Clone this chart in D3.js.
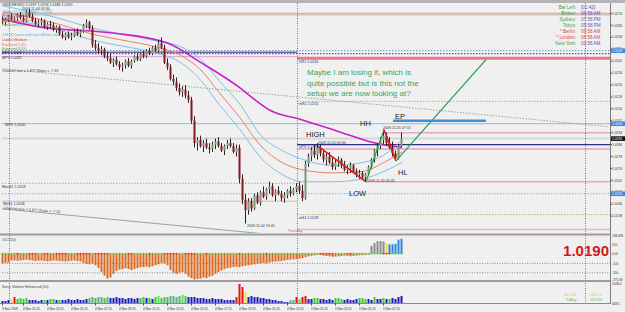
<!DOCTYPE html>
<html>
<head>
<meta charset="utf-8">
<script src="https://cdnjs.cloudflare.com/ajax/libs/d3/7.8.5/d3.min.js"></script>
<style>
  body { margin: 0; background: #f0f0f0; }
  svg { display: block; font-family: "Liberation Sans", Arial, sans-serif; }
</style>
</head>
<body>
<div id="chart"></div>
<script>
// USDCHF M15, one row per bar (3 Nov 23:30 .. 5 Nov 08:45): open, high, low, close
const ohlc = [
  [1.0270,1.0272,1.0267,1.0268],[1.0268,1.0271,1.0266,1.0270],[1.0270,1.0273,1.0268,1.0272],[1.0272,1.0274,1.0269,1.0270],
  [1.0270,1.0272,1.0268,1.0271],[1.0271,1.0274,1.0269,1.0273],[1.0273,1.0275,1.0270,1.0271],[1.0271,1.0273,1.0268,1.0269],
  [1.0269,1.0276,1.0268,1.0275],[1.0275,1.0277,1.0271,1.0272],[1.0272,1.0274,1.0268,1.0269],[1.0269,1.0271,1.0266,1.0267],
  [1.0267,1.0270,1.0265,1.0268],[1.0268,1.0271,1.0266,1.0269],[1.0269,1.0270,1.0264,1.0265],[1.0265,1.0268,1.0263,1.0267],
  [1.0267,1.0269,1.0264,1.0266],[1.0266,1.0268,1.0262,1.0263],[1.0263,1.0266,1.0261,1.0265],[1.0265,1.0266,1.0259,1.0260],
  [1.0260,1.0262,1.0257,1.0258],[1.0258,1.0261,1.0256,1.0260],[1.0260,1.0262,1.0257,1.0258],[1.0258,1.0261,1.0256,1.0259],
  [1.0259,1.0263,1.0258,1.0262],[1.0262,1.0264,1.0259,1.0260],[1.0260,1.0263,1.0258,1.0262],[1.0262,1.0267,1.0261,1.0266],
  [1.0266,1.0270,1.0264,1.0268],[1.0268,1.0269,1.0263,1.0264],[1.0264,1.0266,1.0251,1.0253],[1.0253,1.0256,1.0249,1.0251],
  [1.0251,1.0254,1.0247,1.0249],[1.0249,1.0252,1.0246,1.0250],[1.0250,1.0251,1.0244,1.0245],[1.0245,1.0248,1.0242,1.0244],
  [1.0244,1.0247,1.0240,1.0241],[1.0241,1.0244,1.0238,1.0243],[1.0243,1.0245,1.0239,1.0240],[1.0240,1.0242,1.0236,1.0238],
  [1.0238,1.0241,1.0235,1.0239],[1.0239,1.0243,1.0237,1.0242],[1.0242,1.0244,1.0238,1.0239],[1.0239,1.0243,1.0237,1.0242],
  [1.0242,1.0246,1.0241,1.0245],[1.0245,1.0247,1.0242,1.0243],[1.0243,1.0248,1.0242,1.0247],[1.0247,1.0249,1.0244,1.0245],
  [1.0245,1.0250,1.0244,1.0249],[1.0249,1.0251,1.0246,1.0247],[1.0247,1.0252,1.0246,1.0251],[1.0251,1.0253,1.0248,1.0249],
  [1.0249,1.0256,1.0248,1.0254],[1.0254,1.0258,1.0250,1.0251],[1.0251,1.0253,1.0240,1.0241],[1.0241,1.0244,1.0236,1.0238],
  [1.0238,1.0240,1.0229,1.0230],[1.0230,1.0233,1.0226,1.0228],[1.0228,1.0231,1.0222,1.0224],[1.0224,1.0227,1.0219,1.0221],
  [1.0221,1.0225,1.0218,1.0223],[1.0223,1.0226,1.0217,1.0219],[1.0219,1.0222,1.0214,1.0216],[1.0216,1.0218,1.0200,1.0202],
  [1.0202,1.0205,1.0184,1.0187],[1.0187,1.0191,1.0182,1.0189],[1.0189,1.0192,1.0184,1.0185],[1.0185,1.0189,1.0181,1.0187],
  [1.0187,1.0190,1.0183,1.0184],[1.0184,1.0187,1.0180,1.0183],[1.0183,1.0188,1.0181,1.0186],[1.0186,1.0190,1.0183,1.0188],
  [1.0188,1.0191,1.0184,1.0185],[1.0185,1.0187,1.0181,1.0182],[1.0182,1.0186,1.0179,1.0185],[1.0185,1.0189,1.0183,1.0187],
  [1.0187,1.0190,1.0184,1.0185],[1.0185,1.0187,1.0180,1.0181],[1.0181,1.0186,1.0178,1.0184],[1.0184,1.0186,1.0160,1.0163],
  [1.0163,1.0166,1.0146,1.0149],[1.0149,1.0153,1.0133,1.0142],[1.0142,1.0150,1.0139,1.0148],[1.0148,1.0150,1.0141,1.0143],
  [1.0143,1.0153,1.0142,1.0152],[1.0152,1.0154,1.0146,1.0147],[1.0147,1.0155,1.0145,1.0154],[1.0154,1.0158,1.0150,1.0151],
  [1.0151,1.0157,1.0149,1.0156],[1.0156,1.0161,1.0153,1.0158],[1.0158,1.0160,1.0151,1.0152],[1.0152,1.0156,1.0148,1.0155],
  [1.0155,1.0158,1.0152,1.0153],[1.0153,1.0155,1.0148,1.0150],[1.0150,1.0154,1.0147,1.0152],[1.0152,1.0156,1.0150,1.0155],
  [1.0155,1.0158,1.0151,1.0153],[1.0153,1.0157,1.0152,1.0156],[1.0156,1.0160,1.0154,1.0158],[1.0158,1.0161,1.0153,1.0155],
  [1.0155,1.0159,1.0148,1.0150],[1.0150,1.0175,1.0149,1.0173],[1.0173,1.0180,1.0171,1.0178],[1.0178,1.0184,1.0175,1.0182],
  [1.0182,1.0186,1.0177,1.0179],[1.0179,1.0187,1.0176,1.0184],[1.0184,1.0186,1.0178,1.0180],[1.0180,1.0182,1.0174,1.0176],
  [1.0176,1.0180,1.0172,1.0178],[1.0178,1.0181,1.0173,1.0174],[1.0174,1.0177,1.0169,1.0171],[1.0171,1.0176,1.0169,1.0174],
  [1.0174,1.0178,1.0171,1.0176],[1.0176,1.0177,1.0170,1.0172],[1.0172,1.0175,1.0168,1.0169],[1.0169,1.0172,1.0166,1.0170],
  [1.0170,1.0174,1.0167,1.0172],[1.0172,1.0173,1.0167,1.0168],[1.0168,1.0170,1.0164,1.0166],[1.0166,1.0169,1.0163,1.0167],
  [1.0167,1.0168,1.0163,1.0164],[1.0164,1.0167,1.0161,1.0166],[1.0166,1.0172,1.0165,1.0171],[1.0171,1.0177,1.0170,1.0176],
  [1.0176,1.0183,1.0174,1.0182],[1.0182,1.0187,1.0178,1.0185],[1.0185,1.0191,1.0183,1.0189],[1.0189,1.0196,1.0186,1.0192],
  [1.0192,1.0194,1.0185,1.0187],[1.0187,1.0191,1.0183,1.0184],[1.0184,1.0188,1.0178,1.0180],[1.0180,1.0182,1.0175,1.0177],
  [1.0177,1.0186,1.0176,1.0185],[1.0185,1.0194,1.0184,1.0190]
];

// moving-average envelope read at a few bars
const bandBars = [0, 10, 20, 30, 40, 50, 60, 66, 72, 79, 86, 93, 100, 110, 120, 127, 133];
const bandUpper = [1.0279,1.0275,1.0270,1.0264,1.0260,1.0256,1.0251,1.0243,1.0229,1.0213,1.0192,1.0182,1.0176,1.0172,1.0174,1.0179,1.0189];
const bandMid   = [1.0275,1.0271,1.0266,1.0260,1.0256,1.0252,1.0245,1.0236,1.0221,1.0204,1.0185,1.0174,1.0169,1.0167,1.0168,1.0174,1.0181];
const bandLower = [1.0271,1.0267,1.0262,1.0256,1.0252,1.0248,1.0240,1.0229,1.0213,1.0196,1.0177,1.0166,1.0161,1.0161,1.0163,1.0168,1.0174];
const slowBars = [0, 12, 36, 55, 66, 79, 84, 89, 99, 113, 124, 133];
const slowMa   = [1.0270,1.0265,1.0261,1.0254,1.0241,1.0224,1.0216,1.0209,1.0203,1.0194,1.0187,1.0184];

// pivot levels
const allDayLevels = [1.0274, 1.0273, 1.0249, 1.0247, 1.0200, 1.0190, 1.0153];
const nov4Levels = [1.0248, 1.0245, 1.0160, 1.0148];
const nov5Levels = [1.0244, 1.0215, 1.0186, 1.0183, 1.0139, 1.0129];
const markBars = [127, 121];
const markLevels = [1.0194, 1.0161];

// drawn swing lines: HIGH -> LOW -> HH -> HL, then projection
const swingBars = [105, 121, 127, 131];
const swingPrices = [1.0185, 1.0161, 1.0196, 1.0175];
const projBars = [131, 161];
const projPrices = [1.0175, 1.0243];
const epBars = [130, 161];
const epPrice = 1.0202;
// channel (start bar, end bar) with upper and lower prices
const channelBars = [-1, 202];
const channelUpper = [1.0237, 1.0198];
const channelLower = [1.0143, 1.0104];

const daySeparators = [2, 98, 194];
const priceTicks = [1.0274,1.0266,1.0258,1.0250,1.0242,1.0234,1.0226,1.0218,1.0210,1.0202,1.0194,1.0186,1.0178,1.0170,1.0162,1.0154,1.0146,1.0138];

const tickBars = [0, 7, 15, 23, 31, 39, 47, 55, 63, 71, 79, 87, 95, 103, 111, 119, 127];
const tickText = ["3 Nov 2009","4 Nov 01:15","4 Nov 03:15","4 Nov 05:15","4 Nov 07:15","4 Nov 09:15","4 Nov 11:15",
  "4 Nov 13:15","4 Nov 15:15","4 Nov 17:15","4 Nov 19:15","4 Nov 21:15","4 Nov 23:15","5 Nov 01:15","5 Nov 03:15",
  "5 Nov 05:15","5 Nov 07:15"];

// oscillator
const oscValues = [
  -100,-95,-90,
  -70,-68,-72,-70,-65,-60,-65,-70,
  -75,-72,-70,-74,-78,-75,-70,-72,-75,-78,-80,-76,-72,-70,-75,-80,
  -95,-105,-110,-100,-120,-150,
  -190,-230,-260,-250,-210,-180,
  -165,-160,-150,-160,-170,-160,-150,-140,
  -140,-135,-140,-130,-120,-110,
  -95,-100,-120,
  -170,-200,-210,-200,-190,-210,
  -240,-255,-270,-265,-260,-250,-255,-240,
  -230,-210,-190,-175,-160,-150,-145,-140,
  -135,-140,-130,-125,-120,
  -115,-110,-105,-100,-95,-100,
  -90,-85,-80,-78,-75,
  -70,-65,-60,-58,-55,-50,
  -45,-35,-25,
  -20,-15,-10,-12,-18,-22,-25,-30,-28,-25,-22,-18,-20,-25,-22,-18,-15,-12,-10,-8,
  85,115,135,135,130,115,100,100,105,150,160
];
const oscUpKind = ["grey","grey","grey","grey","grey","yellow","blue","blue","blue","blue","blue"];
const oscTicks = [188.496, 100, 0, -100, -200, -275.36];
const oscTickText = ["188.496", "100", "0.00", "-100", "-200", "-275.36"];

// volume
const volValues = [
  152,152,228,304,456,304,380,304,380,228,
  228,228,152,228,228,228,304,304,228,228,
  228,228,304,228,228,304,228,228,304,380,
  456,380,456,456,380,456,380,380,456,380,
  380,304,380,380,304,380,380,456,380,380,
  304,456,532,380,456,456,532,532,456,532,
  608,532,456,456,456,380,380,380,304,304,
  380,304,304,304,228,228,228,228,456,1448,
  1216,836,456,532,456,456,380,380,304,304,
  228,228,152,152,76,76,228,228,456,304,
  456,532,304,304,380,380,304,304,228,304,
  228,380,380,304,228,304,228,228,304,380,
  380,304,304,228,456,304,304,380,304,304,
  380,304,456,541
];
// b blue, g green, l lime, m grey-green, r red, y yellow
const volKind = ("bbbyrggggb" + "bbbbgbggbg" + "bbbbbbbbbm" + "mmmmmmbbbb" + "bbbbbbggbg" +
  "bglgmmmmmm" + "lmbbbbbbbb" + "bbbbbbbbrr" + "rybbbbbbbb" + "bbbbbbmmrl" +
  "rrbbggbbbb" + "bgggbbbbbg" + "ggbbgbbgbg" + "bbbb").split("");

const infoLabels = ["Bar Left:", "Broker:", "Sydney:", "Tokyo:", "* Berlin:", "* London:", "New York:"];
const infoValues = ["[01:42]", "06:58 AM", "07:58 PM", "05:58 PM", "09:58 AM", "08:58 AM", "03:58 AM"];

const W = 625, H = 312;
const left = 2, right = 610;
const mainTop = 3, mainBottom = 233;

const svg = d3.select("#chart").append("svg")
    .attr("width", W)
    .attr("height", H);

svg.append("rect").attr("width", W).attr("height", H).attr("fill", "#f0f0f0");
svg.append("rect").attr("width", W).attr("height", 3).attr("fill", "#b4b4b4");

const x = d3.scaleLinear().domain([0, 202.33]).range([3, 610]);
const y = d3.scaleLinear().domain([1.0128, 1.0281]).range([231, 3]);
const yOsc = d3.scaleLinear().domain([-275.36, 188.496]).range([280, 236]);
const yVol = d3.scaleLinear().domain([0, 1448.4]).range([303, 284]);

svg.append("clipPath").attr("id", "mainClip")
    .append("rect").attr("x", left).attr("y", mainTop).attr("width", right - left).attr("height", mainBottom - mainTop);

const main = svg.append("g").attr("clip-path", "url(#mainClip)");

function hline(g, price, b0, b1, color, width, dash) {
    g.append("line")
        .attr("x1", b0 === null ? left : x(b0))
        .attr("x2", b1 === null ? right : x(b1))
        .attr("y1", y(price)).attr("y2", y(price))
        .attr("stroke", color)
        .attr("stroke-width", width)
        .attr("stroke-dasharray", dash);
}

// full width levels
const allStyles = [["#e6a2d2", 1.5, null], ["#c9bb92", 1, null], ["#6f8fd6", 1, "1.5,1.5"], ["#2e2e86", 1, "1.5,1.5"],
    ["#8cbce4", 1, null], ["#d6d6d6", 2, null], ["#7fb0e4", 1, "1.5,1.5"]];
allDayLevels.forEach((p, i) => hline(main, p, null, null, ...allStyles[i]));

const nov4Styles = [["#2c2c74", 1, null], ["#e29ccc", 1, null], ["#b4b472", 1, "1.5,1.5"], ["#cbc2a2", 1, null]];
nov4Levels.forEach((p, i) => hline(main, p, null, 98, ...nov4Styles[i]));

const nov5Styles = [["#e8788a", 3, null], ["#b4b472", 1, "1.5,1.5"], ["#2e2e86", 1.2, null], ["#e2a2ca", 1.5, null],
    ["#b4b472", 1, "1.5,1.5"], ["#e8b4d4", 1.5, null]];
nov5Levels.forEach((p, i) => hline(main, p, 98, null, ...nov5Styles[i]));

markLevels.forEach((p, i) => hline(main, p, markBars[i], null, "#e2a8cc", 1.5, null));

// channel
main.append("line")
    .attr("x1", x(channelBars[0])).attr("y1", y(channelUpper[0]))
    .attr("x2", x(channelBars[1])).attr("y2", y(channelUpper[1]))
    .attr("stroke", "#9aa894").attr("stroke-dasharray", "1.5,1.5");
main.append("line")
    .attr("x1", x(channelBars[0])).attr("y1", y(channelLower[0]))
    .attr("x2", x(channelBars[1])).attr("y2", y(channelLower[1]))
    .attr("stroke", "#8fa890");

// day separators, across all panels
daySeparators.forEach(b => {
    svg.append("line")
        .attr("x1", x(b) + 0.5).attr("x2", x(b) + 0.5)
        .attr("y1", mainTop).attr("y2", 303)
        .attr("stroke", "#707070").attr("stroke-dasharray", "1,1.5");
});

// moving averages
const curve = (bars, vals) => d3.line()
    .x((d, i) => x(bars[i]))
    .y(d => y(d))
    .curve(d3.curveMonotoneX)(vals);

main.append("path").attr("d", curve(bandBars, bandUpper)).attr("fill", "none").attr("stroke", "#84bfe6").attr("stroke-width", 1);
main.append("path").attr("d", curve(bandBars, bandLower)).attr("fill", "none").attr("stroke", "#84bfe6").attr("stroke-width", 1);
main.append("path").attr("d", curve(bandBars, bandMid)).attr("fill", "none").attr("stroke", "#e4826c").attr("stroke-width", 1);
main.append("path").attr("d", curve(slowBars, slowMa)).attr("fill", "none").attr("stroke", "#c81fc8").attr("stroke-width", 1.6);

// candles
main.selectAll(".wick")
    .data(ohlc)
    .enter()
    .append("line")
    .attr("x1", (d, i) => x(i) - 0.5)
    .attr("x2", (d, i) => x(i) - 0.5)
    .attr("y1", d => y(d[1]))
    .attr("y2", d => y(d[2]))
    .attr("stroke", "#262626")
    .attr("stroke-width", 1);

main.selectAll(".body")
    .data(ohlc)
    .enter()
    .append("rect")
    .attr("x", (d, i) => x(i) - 1.5)
    .attr("width", 2)
    .attr("y", d => y(Math.max(d[0], d[3])))
    .attr("height", d => Math.max(1, Math.abs(y(d[0]) - y(d[3]))))
    .attr("fill", d => d[3] >= d[0] ? "#7d9679" : "#861820");

// swing lines
const swingColors = ["#d21f1f", "#1f9a3e", "#d21f1f"];
swingColors.forEach((c, i) => {
    main.append("line")
        .attr("x1", x(swingBars[i])).attr("y1", y(swingPrices[i]))
        .attr("x2", x(swingBars[i + 1])).attr("y2", y(swingPrices[i + 1]))
        .attr("stroke", c).attr("stroke-width", c === "#d21f1f" ? 1.6 : 1.1);
});
main.append("line")
    .attr("x1", x(projBars[0])).attr("y1", y(projPrices[0]))
    .attr("x2", x(projBars[1])).attr("y2", y(projPrices[1]))
    .attr("stroke", "#1f9a3e").attr("stroke-width", 1.1);
main.append("line")
    .attr("x1", x(epBars[0])).attr("x2", x(epBars[1]))
    .attr("y1", y(epPrice)).attr("y2", y(epPrice))
    .attr("stroke", "#3d8ee0").attr("stroke-width", 2.5);

// small object labels
function small(tx, ty, str, color, size) {
    return svg.append("text").attr("x", tx).attr("y", ty)
        .attr("font-size", size || 3.6).attr("fill", color || "#3a3a3a").text(str);
}

small(2, 5.5, "USDCHF,M15  1.0187 1.0194 1.0186 1.0190", "#333");
small(22, 9.5, "2009.11.04 05:30", "#333");
small(2, 12.5, "JZ Ext  21.1 hrs  1.0277 / 1.0262", "#3fb2d6");
small(2, 17, "Highest Medium", "#d6306a");
small(2, 21.5, "High Medium 0.0%", "#e0803a");
small(2, 26, "Expected 6.4%", "#3aa43a");
small(2, 36, "4 Hr 32 hours until next 4H bar close", "#3fb2d6");
small(2, 40.5, "Lowest Medium", "#d03030");
small(2, 45.5, "Expected 5.4%", "#e0803a");
small(2, 50, "Expected 4.0%", "#3aa43a");
small(2, 54, "MR1  1.0249", "#2c2c74");
small(2, 58.5, "MPV  1.0245", "#2c2c74");
small(2, 72, "Channel size = 1.877  Slope = -7.33", "#404040");
small(5, y(1.0200) + 2, "WPV  1.0200", "#2c2c74");
small(2, 187.5, "MonS1  1.0158", "#2c2c74");
small(3, 204.5, "WkS1  1.0148", "#2c2c74");
small(4, 209, "Channel size = 1.877  Slope = -7.33", "#404040").attr("transform", "rotate(4 4 209)");
small(x(98) + 2, y(1.0244) + 4.5, "DR1  1.0244", "#2c2c74");
small(x(98) + 2, y(1.0215) + 3.5, "mR1  1.0215", "#2c2c74");
small(x(98) + 2, y(1.0186) + 3, "DPV  1.0185", "#2c2c74");
small(x(105), y(1.0186) - 1, "2009.11.05 00:30", "#333");
small(x(98) + 2, y(1.0139) + 4, "mS1  1.0139", "#2c2c74");
small(x(81) + 1, y(1.0133) + 3, "2009.11.04 19:45", "#333");
small(x(121) + 1, y(1.0161) + 0.5, "2009.11.05 05:45", "#333");
small(x(127) - 1, y(1.0196) - 0.5, "2009.11.05 07:15", "#333");
small(288, 232, "Thursday", "#e04a5a", 3.4);

// swing names
[["HIGH", 306, 136.5], ["HH", 360, 126], ["EP", 395, 119], ["HL", 398, 175], ["LOW", 349, 196]].forEach(d => {
    svg.append("text").attr("x", d[1]).attr("y", d[2])
        .attr("font-size", 7.5).attr("fill", "#1a1a1a").text(d[0]);
});

// green note
["Maybe I am losing it, which is", "quite possible but is this not the", "setup we are now looking at?"].forEach((t, i) => {
    svg.append("text").attr("x", 307).attr("y", 75 + i * 10.5)
        .attr("font-size", 8).attr("fill", "#3aa45e").text(t);
});

// clock box
infoLabels.forEach((t, i) => {
    const red = t.startsWith("*");
    svg.append("text").attr("x", 576).attr("y", 9 + i * 6).attr("text-anchor", "end")
        .attr("font-size", 4.6).attr("fill", red ? "#d84848" : "#4a9a4a").text(t);
    svg.append("text").attr("x", 581).attr("y", 9 + i * 6)
        .attr("font-size", 4.6).attr("fill", red ? "#d84848" : "#6a50b0").text(infoValues[i]);
});

// right price axis
svg.append("line").attr("x1", right + 0.5).attr("x2", right + 0.5).attr("y1", 3).attr("y2", 304)
    .attr("stroke", "#7c7c7c").attr("stroke-width", 1);
priceTicks.forEach(p => {
    svg.append("line").attr("x1", right).attr("x2", right + 2).attr("y1", y(p)).attr("y2", y(p)).attr("stroke", "#555");
    small(612, y(p) + 1.2, p.toFixed(4), "#333", 3.3);
});
[[1.0249, "#3d86d8"], [1.0200, "#3d86d8"], [1.0190, "#111"], [1.0153, "#3d86d8"]].forEach(d => {
    svg.append("rect").attr("x", 611).attr("y", y(d[0]) - 2.3).attr("width", 14).attr("height", 4.6).attr("fill", d[1]);
    small(612, y(d[0]) + 1.2, d[0].toFixed(4), "#fff", 3.3);
});

// panel borders
[[234.5, 2], [281, 2]].forEach(d => {
    svg.append("line").attr("x1", 0).attr("x2", right).attr("y1", d[0]).attr("y2", d[0])
        .attr("stroke", "#9c9c9c").attr("stroke-width", d[1]);
});
svg.append("line").attr("x1", 0).attr("x2", right).attr("y1", 303.5).attr("y2", 303.5).attr("stroke", "#8a8a8a");

// oscillator panel
small(2, 241, "OCI (10)", "#404040");
[-100, -200].forEach(v => {
    svg.append("line").attr("x1", left).attr("x2", right).attr("y1", yOsc(v)).attr("y2", yOsc(v))
        .attr("stroke", "#8a8a8a").attr("stroke-dasharray", "1,1.5");
});
let upCount = 0;
const oscColorOf = { grey: "#8c8c8c", yellow: "#ece23a", blue: "#2f86dc" };
svg.selectAll(".osc")
    .data(oscValues)
    .enter()
    .append("rect")
    .attr("x", (d, i) => x(i) - 1.5)
    .attr("width", 2)
    .attr("y", d => Math.min(yOsc(0), yOsc(d)))
    .attr("height", d => Math.abs(yOsc(d) - yOsc(0)))
    .attr("fill", d => d < 0 ? "#dc6a22" : oscColorOf[oscUpKind[upCount++]]);
svg.selectAll(".oscDot")
    .data(oscValues)
    .enter()
    .append("rect")
    .attr("x", (d, i) => x(i) - 1.5)
    .attr("y", yOsc(0) - 1)
    .attr("width", 2).attr("height", 1.5)
    .attr("fill", (d, i) => i > 0 && d < oscValues[i - 1] ? "#e02828" : "#3ed23e");
svg.append("text").attr("x", 609).attr("y", 256).attr("text-anchor", "end")
    .attr("font-size", 15).attr("font-weight", "bold").attr("fill", "#d01818").text("1.0190");
oscTicks.forEach((v, i) => small(612, yOsc(v) + 1.2, oscTickText[i], "#333", 3.1));

// volume panel
small(2, 288, "Sonic Volume Enhanced (10)", "#404040");
const volColor = { b: "#1c1cbc", g: "#3cc83c", l: "#44f044", m: "#58b478", r: "#e01616", y: "#f2e43a" };
svg.selectAll(".vol")
    .data(volValues)
    .enter()
    .append("rect")
    .attr("x", (d, i) => x(i) - 1.5)
    .attr("width", 2)
    .attr("y", d => yVol(d))
    .attr("height", d => yVol(0) - yVol(d))
    .attr("fill", (d, i) => volColor[volKind[i]]);
small(577, 295.5, "Bar Vol:", "#e0cc5a", 3.6).attr("text-anchor", "end");
small(590, 295.5, "541.0 v", "#e0cc5a", 3.6);
small(577, 300.5, "% Avg:", "#4ab84a", 3.6).attr("text-anchor", "end");
small(590, 300.5, "105.0%", "#4ab84a", 3.6);
small(612, 285, "1448.4", "#333", 3.1);
small(612, 305, "408.5", "#333", 3.1);

// time axis
tickBars.forEach((b, i) => {
    svg.append("line").attr("x1", x(b) - 0.5).attr("x2", x(b) - 0.5).attr("y1", 303).attr("y2", 305.5).attr("stroke", "#555");
    small(x(b) - 1, 309.5, tickText[i], "#333", 3.1);
});
</script>
</body>
</html>
